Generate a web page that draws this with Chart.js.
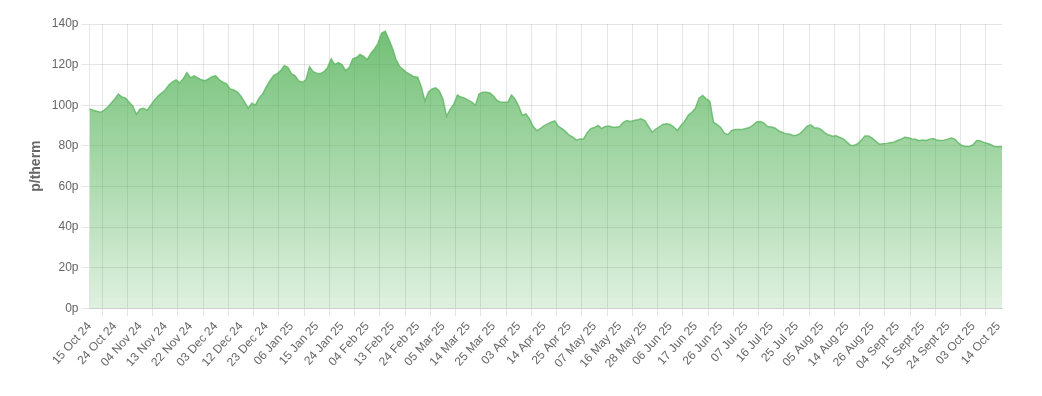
<!DOCTYPE html>
<html>
<head>
<meta charset="utf-8">
<script src="https://cdn.jsdelivr.net/npm/chart.js@4.4.1/dist/chart.umd.min.js"></script>
<style>
  html, body { margin: 0; padding: 0; background: #fff; }
  #wrap { width: 1042px; height: 396px; position: relative; }
</style>
</head>
<body>
<div id="wrap"><canvas id="gasChart"></canvas></div>
<script>
// trading days (UK), 15 Oct 24 -> 15 Oct 25
const firstDay = '2024-10-15';
const lastDay = '2025-10-15';
const bankHolidays = ['2024-12-25', '2024-12-26', '2025-01-01', '2025-04-18',
  '2025-04-21', '2025-05-05', '2025-05-26', '2025-08-25'];
const monthNames = ['Jan', 'Feb', 'Mar', 'Apr', 'May', 'Jun', 'Jul', 'Aug', 'Sept', 'Oct', 'Nov', 'Dec'];

// p/therm, one value per trading day
const prices = [
  98.2, 97.5, 97, 96.5, 97.5, 99, 101, 103, 105.5, 104,
  103.5, 101.5, 99.5, 95.5, 98, 98.5, 97.5, 100, 102.5, 104.5,
  106, 107.5, 110, 111.5, 112.5, 111, 113, 116, 113.5, 114.5,
  113.5, 112.5, 112, 113, 114, 114.5, 112.5, 111.3, 110.5, 108,
  107.5, 106.5, 104.5, 101.5, 98.5, 101, 100, 103.5, 105.5, 109,
  112, 114.5, 115.5, 117, 119.5, 118.7, 115.5, 114.5, 112, 111.3,
  112.5, 119, 116.5, 115.8, 115.5, 116.5, 118.5, 122.8, 120, 121,
  120, 117, 118.5, 122.8, 123.5, 125, 124, 122.5, 125.5, 127.7,
  130.5, 135.5, 136.4, 132.5, 128, 122.5, 119, 117.5, 116, 115,
  114, 113.8, 109, 102, 106.5, 108, 108.5, 107, 103, 94.5,
  98, 100.5, 105, 104, 103.5, 102.5, 101.5, 100, 105.5, 106.4,
  106.4, 106, 104.5, 102.3, 101.5, 101.5, 101.5, 105, 103, 99.5,
  95, 95.7, 93.3, 89.5, 87.5, 88.5, 89.8, 90.8, 91.6, 92.3,
  89.5, 88.5, 87, 85.2, 84.3, 82.8, 83.4, 83.4, 86.5, 88.5,
  89, 90, 88.5, 89.5, 89.8, 89.2, 89.2, 89.5, 91.5, 92.5,
  92, 92.5, 92.8, 93.3, 92.3, 89.5, 86.7, 88.2, 89.3, 90.5,
  90.8, 90.5, 89.2, 87.5, 90, 92, 95, 96.5, 98.5, 103.5,
  104.8, 103.1, 102, 91.6, 90.5, 89, 86.2, 85.5, 87.5, 88,
  88, 88, 88.5, 89, 90.2, 91.8, 92, 91.2, 89.5, 89.3,
  88.8, 87.5, 86.7, 86, 85.8, 85.1, 85.2, 86, 87.8, 89.7,
  90.3, 88.8, 88.8, 87.8, 86.2, 85.3, 84.7, 85, 84.1, 83.4,
  81.8, 80.2, 80.2, 81, 82.8, 84.8, 84.8, 83.8, 82.2, 80.8,
  81, 81.2, 81.5, 81.8, 82.6, 83.2, 84.2, 84, 83.4, 83.2,
  82.5, 82.8, 82.6, 83.3, 83.6, 82.7, 82.6, 82.8, 83.3, 83.8,
  83.2, 81.3, 80, 79.7, 79.7, 80.5, 82.6, 82.4, 81.7, 81.1,
  80.5, 79.5, 79.5, 79.5
];

const yMin = 0;
const yMax = 140;
const yStep = 20;
const labelEvery = 7;

function tradingDays(from, to) {
  const out = [];
  const d = new Date(from + 'T00:00:00Z');
  const end = new Date(to + 'T00:00:00Z');
  while (d <= end) {
    const iso = d.toISOString().slice(0, 10);
    const wd = d.getUTCDay();
    if (wd !== 0 && wd !== 6 && !bankHolidays.includes(iso)) {
      const dd = String(d.getUTCDate()).padStart(2, '0');
      const yy = String(d.getUTCFullYear()).slice(2);
      out.push(dd + ' ' + monthNames[d.getUTCMonth()] + ' ' + yy);
    }
    d.setUTCDate(d.getUTCDate() + 1);
  }
  return out;
}

const dates = tradingDays(firstDay, lastDay);

Chart.defaults.font.family = 'Arial, "Liberation Sans", Helvetica, sans-serif';
Chart.defaults.font.size = 12;
Chart.defaults.color = '#666';

const ctx = document.getElementById('gasChart').getContext('2d');
new Chart(ctx, {
  type: 'line',
  data: {
    labels: dates,
    datasets: [{
      label: 'Price',
      data: prices,
      fill: 'origin',
      borderColor: 'rgba(92, 182, 98, 0.8)',
      borderWidth: 1.5,
      pointRadius: 0,
      tension: 0,
      backgroundColor: (context) => {
        const { chart } = context;
        const area = chart.chartArea;
        if (!area) return 'rgba(76, 175, 80, 0.5)';
        const g = chart.ctx.createLinearGradient(0, area.top, 0, area.bottom);
        g.addColorStop(0, 'rgba(76, 175, 80, 0.8)');
        g.addColorStop(1, 'rgba(76, 175, 80, 0.18)');
        return g;
      }
    }]
  },
  options: {
    responsive: true,
    maintainAspectRatio: false,
    animation: false,
    layout: { padding: { left: 24, right: 40, top: 24, bottom: 21 } },
    plugins: {
      legend: { display: false },
      tooltip: { enabled: false }
    },
    scales: {
      x: {
        grid: { offset: true, color: 'rgba(0,0,0,0.1)' },
        afterBuildTicks: (axis) => {
          axis.ticks = axis.ticks.filter((t, i) => i % labelEvery === 0);
        },
        ticks: {
          autoSkip: false,
          minRotation: 48,
          maxRotation: 48,
          color: '#666'
        }
      },
      y: {
        min: yMin,
        max: yMax,
        grid: { color: 'rgba(0,0,0,0.1)' },
        ticks: {
          stepSize: yStep,
          color: '#666',
          callback: (v) => v + 'p'
        },
        title: {
          display: true,
          text: 'p/therm',
          color: '#666',
          font: { size: 14, weight: 'bold' }
        }
      }
    }
  }
});
</script>
</body>
</html>
